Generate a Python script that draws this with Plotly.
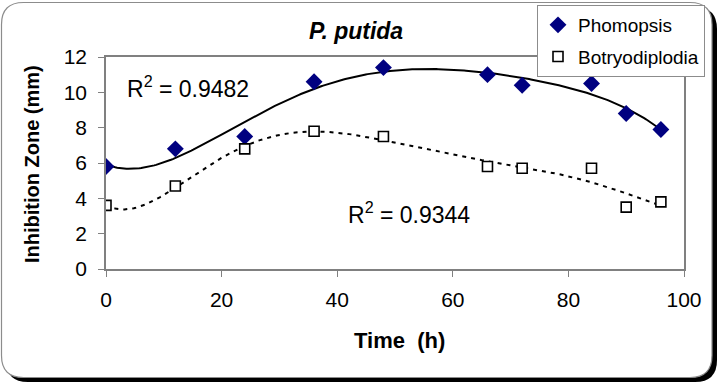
import numpy as np
import plotly.graph_objects as go

# ---- data ----
time_h = [0, 12, 24, 36, 48, 66, 72, 84, 90, 96]
phomopsis = [5.8, 6.8, 7.5, 10.6, 11.4, 11.0, 10.4, 10.5, 8.8, 7.9]
botryodiplodia = [3.6, 4.7, 6.8, 7.8, 7.5, 5.8, 5.7, 5.7, 3.5, 3.8]
x_ticks = [0, 20, 40, 60, 80, 100]
y_ticks = [0, 2, 4, 6, 8, 10, 12]
r2_phomopsis = "0.9482"
r2_botryo = "0.9344"
order_phomopsis = 5
order_botryo = 6

# ---- layout geometry (pixels) ----
W, H = 720, 387
L, R, T, B = 106, 36, 57, 118
PW = W - L - R
PH = H - T - B


def px(x):
    return (x - L) / PW


def py(y):
    return (H - B - y) / PH


def rounded_rect(x0, y0, x1, y1, r):
    rx, ry = r / PW, r / PH
    X0, X1 = px(x0), px(x1)
    Y0, Y1 = py(y0), py(y1)
    return (f"M {X0+rx},{Y0} L {X1-rx},{Y0} Q {X1},{Y0} {X1},{Y0-ry} "
            f"L {X1},{Y1+ry} Q {X1},{Y1} {X1-rx},{Y1} "
            f"L {X0+rx},{Y1} Q {X0},{Y1} {X0},{Y1+ry} "
            f"L {X0},{Y0-ry} Q {X0},{Y0} {X0+rx},{Y0} Z")


# polynomial trendlines fitted to the data
xf = np.linspace(min(time_h), max(time_h), 300)
fit_p = np.polyval(np.polyfit(time_h, phomopsis, order_phomopsis), xf)
fit_b = np.polyval(np.polyfit(time_h, botryodiplodia, order_botryo), xf)

fig = go.Figure()
fig.add_trace(go.Scatter(x=xf, y=fit_p, mode="lines", line=dict(color="black", width=2),
                         showlegend=False, hoverinfo="skip"))
fig.add_trace(go.Scatter(x=xf, y=fit_b, mode="lines",
                         line=dict(color="black", width=2, dash="4px,5px"),
                         showlegend=False, hoverinfo="skip"))
fig.add_trace(go.Scatter(x=time_h, y=phomopsis, mode="markers", name="Phomopsis",
                         legendgroup="a",
                         marker=dict(symbol="diamond", size=13, color="#000080",
                                     line=dict(width=0))))
fig.add_trace(go.Scatter(x=time_h, y=botryodiplodia, mode="markers", name="Botryodiplodia",
                         legendgroup="b",
                         marker=dict(symbol="square", size=10, color="white",
                                     line=dict(color="black", width=1.6))))

axis_common = dict(showline=True, linecolor="#808080", linewidth=1.5, mirror=True,
                   ticks="outside", tickcolor="#808080", ticklen=6, tickwidth=1.2,
                   showgrid=False, zeroline=False,
                   tickfont=dict(family="Liberation Sans, Arial", size=21, color="black"))

fig.update_xaxes(range=[0, 100], tickvals=x_ticks, ticklabelstandoff=5, **axis_common)
fig.update_yaxes(range=[0, 12], tickvals=y_ticks, ticklabelstandoff=7, **axis_common)

fig.add_shape(type="path", xref="paper", yref="paper", layer="below",
              path=rounded_rect(6, 7, 717, 382, 22), fillcolor="black",
              line=dict(color="black", width=0))
fig.add_shape(type="path", xref="paper", yref="paper", layer="below",
              path=rounded_rect(1.5, 2.5, 712, 377.5, 22), fillcolor="white",
              line=dict(color="#8c8c8c", width=1.2))

ann_font = dict(family="Liberation Sans, Arial", color="black")
fig.add_annotation(x=px(356), y=py(31), xref="paper", yref="paper", showarrow=False,
                   text="<b><i>P. putida</i></b>", xanchor="center", yanchor="middle",
                   font=dict(size=23, **ann_font))
fig.add_annotation(x=px(399), y=py(340), xref="paper", yref="paper", showarrow=False,
                   text="<b>Time&nbsp;&nbsp;(h)</b>", xanchor="center", yanchor="middle",
                   font=dict(size=22, **ann_font))
fig.add_annotation(x=px(32), y=py(164), xref="paper", yref="paper", showarrow=False,
                   text="<b>Inhibition Zone (mm)</b>", textangle=-90,
                   xanchor="center", yanchor="middle",
                   font=dict(size=20, **ann_font))
fig.add_annotation(x=px(125), y=py(87), xref="paper", yref="paper", showarrow=False,
                   text=f"R<sup>2</sup> = {r2_phomopsis}", xanchor="left", yanchor="middle",
                   font=dict(size=23, **ann_font))
fig.add_annotation(x=px(346), y=py(213), xref="paper", yref="paper", showarrow=False,
                   text=f"R<sup>2</sup> = {r2_botryo}", xanchor="left", yanchor="middle",
                   font=dict(size=23, **ann_font))

fig.update_layout(
    width=W, height=H,
    margin=dict(l=L, r=R, t=T, b=B, pad=0, autoexpand=False),
    paper_bgcolor="white", plot_bgcolor="rgba(0,0,0,0)",
    showlegend=True,
    legend=dict(x=px(537), y=py(5), xanchor="left", yanchor="top",
                bgcolor="white", bordercolor="#8c8c8c", borderwidth=1,
                font=dict(family="Liberation Sans, Arial", size=19, color="black"),
                traceorder="grouped", tracegroupgap=4, itemwidth=30),
)

fig.write_html("out.html", config={"displayModeBar": False},
               post_script="document.body.style.margin='0';document.body.style.overflow='hidden';")
